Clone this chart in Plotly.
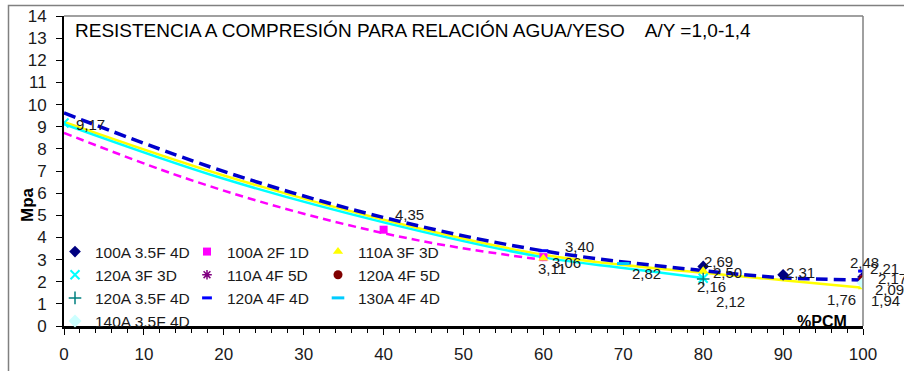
import plotly.graph_objects as go

# ---- measured compression strength (MPa) vs. PCM content (%) per mix ----
x_100a_35f_4d = [80, 90, 100]
y_100a_35f_4d = [2.69, 2.31, 2.21]
x_100a_2f_1d = [40, 60]
y_100a_2f_1d = [4.35, 3.11]
x_110a_3f_3d = [60, 80, 100]
y_110a_3f_3d = [3.06, 2.50, 1.76]
x_120a_3f_3d = [0, 80]
y_120a_3f_3d = [9.17, 2.16]
x_110a_4f_5d = [100]
y_110a_4f_5d = [2.17]
x_120a_4f_5d = [100]
y_120a_4f_5d = [2.09]
x_120a_35f_4d = [80]
y_120a_35f_4d = [2.12]
x_120a_4f_4d = [60, 100]
y_120a_4f_4d = [3.40, 2.48]
x_130a_4f_4d = [70]
y_130a_4f_4d = [2.82]
x_140a_35f_4d = [100]
y_140a_35f_4d = [1.94]

# ---- trend curves ----
trend_blue_x = [0, 20, 40, 60, 80, 90, 100]
trend_blue_y = [9.62, 6.98, 4.90, 3.39, 2.50, 2.18, 2.08]
trend_pink_x = [0, 15, 30, 45, 60]
trend_pink_y = [8.72, 6.70, 5.07, 3.82, 2.98]
trend_yellow_x = [0, 20, 40, 60, 80, 90, 100]
trend_yellow_y = [9.22, 6.80, 4.80, 3.22, 2.40, 2.07, 1.73]
trend_cyan_x = [0, 20, 40, 60, 70, 80]
trend_cyan_y = [9.12, 6.65, 4.68, 3.10, 2.62, 2.17]

x_ticks = list(range(0, 101, 10))
y_ticks = list(range(0, 15))

W, H = 904, 371
M = dict(l=64, r=41, t=16, b=45, autoexpand=False)
PW, PH = W - M["l"] - M["r"], H - M["t"] - M["b"]


def px_x(p):
    return (p - M["l"]) / PW


def px_y(p):
    return (H - M["b"] - p) / PH


FONT = "Liberation Sans, Arial, sans-serif"
TXT = "#1a1a1a"

series = [
    dict(name="100A 3.5F 4D", x=x_100a_35f_4d, y=y_100a_35f_4d, legend="legend",
         marker=dict(symbol="diamond", size=9, color="#000080")),
    dict(name="100A 2F 1D", x=x_100a_2f_1d, y=y_100a_2f_1d, legend="legend2",
         marker=dict(symbol="square", size=8, color="#FF00FF")),
    dict(name="110A 3F 3D", x=x_110a_3f_3d, y=y_110a_3f_3d, legend="legend3",
         marker=dict(symbol="triangle-up", size=9, color="#FFFF00")),
    dict(name="120A 3F 3D", x=x_120a_3f_3d, y=y_120a_3f_3d, legend="legend",
         marker=dict(symbol="x-thin-open", size=9, color="#00FFFF",
                     line=dict(width=2, color="#00FFFF"))),
    dict(name="110A 4F 5D", x=x_110a_4f_5d, y=y_110a_4f_5d, legend="legend2",
         marker=dict(symbol="asterisk-open", size=8, color="#800080",
                     line=dict(width=1.5, color="#800080"))),
    dict(name="120A 4F 5D", x=x_120a_4f_5d, y=y_120a_4f_5d, legend="legend3",
         marker=dict(symbol="circle", size=9, color="#800000")),
    dict(name="120A 3.5F 4D", x=x_120a_35f_4d, y=y_120a_35f_4d, legend="legend",
         marker=dict(symbol="cross-thin-open", size=9, color="#008080",
                     line=dict(width=1.5, color="#008080"))),
    dict(name="120A 4F 4D", x=x_120a_4f_4d, y=y_120a_4f_4d, legend="legend2",
         marker=dict(symbol="line-ew-open", size=7, color="#0000FF",
                     line=dict(width=3, color="#0000FF"))),
    dict(name="130A 4F 4D", x=x_130a_4f_4d, y=y_130a_4f_4d, legend="legend3",
         marker=dict(symbol="line-ew-open", size=9, color="#00CCFF",
                     line=dict(width=3, color="#00CCFF"))),
    dict(name="140A 3.5F 4D", x=x_140a_35f_4d, y=y_140a_35f_4d, legend="legend",
         marker=dict(symbol="diamond", size=10, color="#CCFFFF")),
]

# label placement: pixel offset of the label centre from its point (right, down)
label_offsets = {
    ("100A 3.5F 4D", 0): (15, -5),
    ("100A 3.5F 4D", 1): (17, -2),
    ("100A 3.5F 4D", 2): (21, -9),
    ("100A 2F 1D", 0): (26, -15),
    ("100A 2F 1D", 1): (9, 11),
    ("110A 3F 3D", 0): (23, 4),
    ("110A 3F 3D", 1): (24, 2),
    ("110A 3F 3D", 2): (-22, 12),
    ("120A 3F 3D", 0): (26, 2),
    ("120A 3F 3D", 1): (8, 8),
    ("110A 4F 5D", 0): (29, 1),
    ("120A 4F 5D", 0): (26, 10),
    ("120A 3.5F 4D", 0): (27, 22),
    ("120A 4F 4D", 0): (36, -4),
    ("120A 4F 4D", 1): (1, -9),
    ("130A 4F 4D", 0): (23, 10),
    ("140A 3.5F 4D", 0): (22, 17),
}

fig = go.Figure()

# trend lines
fig.add_trace(go.Scatter(x=trend_yellow_x, y=trend_yellow_y, mode="lines", showlegend=False,
                         line=dict(color="#FFFF00", width=2.5, shape="spline", smoothing=1.0),
                         hoverinfo="skip"))
fig.add_trace(go.Scatter(x=trend_cyan_x, y=trend_cyan_y, mode="lines", showlegend=False,
                         line=dict(color="#00FFFF", width=2.5, shape="spline", smoothing=1.0),
                         hoverinfo="skip"))
fig.add_trace(go.Scatter(x=trend_pink_x, y=trend_pink_y, mode="lines", showlegend=False,
                         line=dict(color="#FF00FF", width=2.5, dash="8px,5px",
                                   shape="spline", smoothing=1.0),
                         hoverinfo="skip"))
fig.add_trace(go.Scatter(x=trend_blue_x, y=trend_blue_y, mode="lines", showlegend=False,
                         line=dict(color="#0000CC", width=3.5, dash="12px,6px",
                                   shape="spline", smoothing=1.0),
                         hoverinfo="skip"))

annotations = []
for s in series:
    fig.add_trace(go.Scatter(x=s["x"], y=s["y"], mode="markers", name=s["name"],
                             marker=s["marker"], legend=s["legend"]))
    for i, (xv, yv) in enumerate(zip(s["x"], s["y"])):
        off = label_offsets.get((s["name"], i))
        if off is None:
            continue
        annotations.append(dict(
            x=xv, y=yv, xref="x", yref="y", showarrow=False,
            text=f"{yv:.2f}".replace(".", ","),
            xshift=off[0], yshift=-off[1],
            font=dict(family=FONT, size=15, color=TXT),
        ))

annotations += [
    dict(xref="paper", yref="paper", x=px_x(73), y=px_y(30), xanchor="left", yanchor="middle",
         showarrow=False,
         text="RESISTENCIA A COMPRESIÓN PARA RELACIÓN AGUA/YESO\u00a0\u00a0\u00a0 A/Y =1,0-1,4",
         font=dict(family=FONT, size=19, color="#000000")),
    dict(xref="paper", yref="paper", x=px_x(28), y=px_y(205), xanchor="center", yanchor="middle",
         showarrow=False, text="<b>Mpa</b>", textangle=-90,
         font=dict(family=FONT, size=17, color="#000000")),
    dict(xref="paper", yref="paper", x=px_x(822), y=px_y(321), xanchor="center", yanchor="middle",
         showarrow=False, text="<b>%PCM</b>",
         font=dict(family=FONT, size=16, color="#000000")),
]

legend_style = dict(font=dict(family=FONT, size=15.5, color=TXT), bgcolor="rgba(0,0,0,0)",
                    borderwidth=0, xanchor="left", yanchor="top", itemwidth=30,
                    orientation="v", traceorder="normal")

fig.update_layout(
    width=W, height=H, margin=M,
    paper_bgcolor="white", plot_bgcolor="white",
    annotations=annotations,
    legend=dict(x=px_x(55), y=px_y(235), **legend_style),
    legend2=dict(x=px_x(187), y=px_y(235), **legend_style),
    legend3=dict(x=px_x(318), y=px_y(235), **legend_style),
    shapes=[
        # outer chart frame
        dict(type="rect", xref="paper", yref="paper", x0=px_x(8.5), x1=px_x(1200),
             y0=px_y(600), y1=px_y(5.5), line=dict(color="#808080", width=1.5), layer="below"),
        # plot area top and right edges
        dict(type="line", xref="paper", yref="paper", x0=0, x1=1, y0=1, y1=1,
             line=dict(color="#808080", width=1.5)),
        dict(type="line", xref="paper", yref="paper", x0=1, x1=1, y0=0, y1=1,
             line=dict(color="#808080", width=1.5)),
    ],
    xaxis=dict(range=[0, 100], tickvals=x_ticks, ticks="outside", ticklen=6, tickwidth=1,
               tickcolor="black", showline=True, linecolor="black", linewidth=2.5,
               showgrid=False, zeroline=False, ticklabelstandoff=5,
               minor=dict(dtick=2, ticks="outside", ticklen=4, tickcolor="black", showgrid=False),
               tickfont=dict(family=FONT, size=17, color=TXT)),
    yaxis=dict(range=[0, 14], tickvals=y_ticks, ticks="outside", ticklen=6, tickwidth=1,
               tickcolor="black", showline=True, linecolor="black", linewidth=2,
               showgrid=False, zeroline=False, ticklabelstandoff=6,
               tickfont=dict(family=FONT, size=17, color=TXT)),
)

fig.write_html("out.html")
